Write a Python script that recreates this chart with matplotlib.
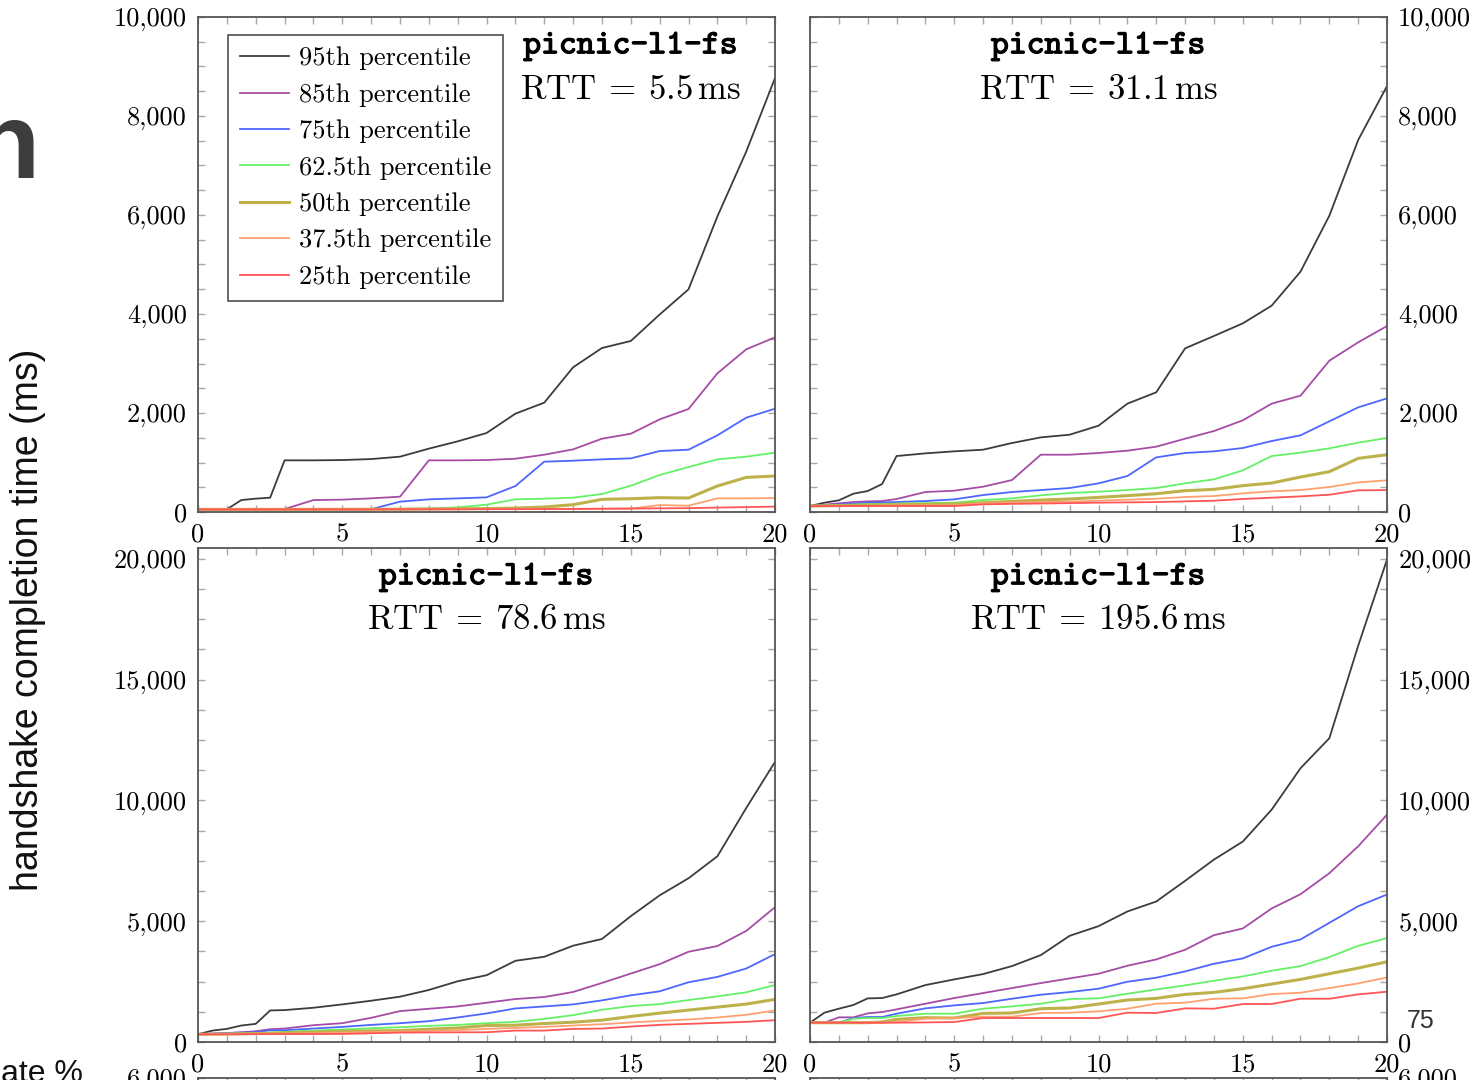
import matplotlib
matplotlib.use("Agg")
import matplotlib.pyplot as plt
import matplotlib.patheffects as pe
from matplotlib.ticker import MultipleLocator, FuncFormatter

plt.rcParams['font.family'] = ['cmr10', 'DejaVu Serif']
plt.rcParams['mathtext.fontset'] = 'cm'
plt.rcParams['axes.unicode_minus'] = False

# packet loss (%) on the x axis
loss = [0, 0.5, 1, 1.5, 2, 2.5, 3, 4, 5, 6, 7, 8, 9, 10, 11, 12, 13, 14, 15, 16, 17, 18, 19, 20]
percentiles = ["95th", "85th", "75th", "62.5th", "50th", "37.5th", "25th"]
colors = ["#3c3c3c", "#a64ca6", "#4d66ff", "#66f066", "#bdb24a", "#ffa070", "#ff5555"]
widths = [1.3, 1.3, 1.3, 1.3, 2.2, 1.3, 1.3]

# RTT = 5.5 ms
rtt5_p95 = [54, 54, 54, 242, 270, 290, 1044, 1044, 1050, 1070, 1118, 1280, 1428, 1596, 1987, 2209, 2923, 3313, 3455, 3990, 4498, 5970, 7280, 8770]
rtt5_p85 = [54, 54, 54, 54, 54, 54, 60, 242, 250, 276, 310, 1044, 1044, 1050, 1077, 1158, 1266, 1481, 1582, 1872, 2081, 2801, 3286, 3529]
rtt5_p75 = [54, 54, 54, 54, 54, 54, 54, 54, 54, 56, 209, 256, 276, 296, 525, 1017, 1037, 1064, 1084, 1232, 1259, 1549, 1906, 2087]
rtt5_p62 = [54, 54, 54, 54, 54, 54, 54, 54, 56, 58, 62, 70, 94, 148, 256, 269, 290, 364, 532, 747, 909, 1064, 1118, 1199]
rtt5_p50 = [54, 54, 54, 54, 54, 54, 54, 54, 55, 56, 58, 62, 66, 70, 80, 101, 148, 256, 269, 290, 283, 525, 700, 727]
rtt5_p37 = [54, 54, 54, 54, 54, 54, 54, 54, 54, 55, 56, 57, 58, 60, 62, 64, 66, 68, 70, 141, 128, 276, 276, 283]
rtt5_p25 = [54, 54, 54, 54, 54, 54, 54, 54, 54, 54, 55, 55, 56, 57, 58, 60, 62, 65, 70, 75, 78, 90, 100, 110]

# RTT = 31.1 ms
rtt31_p95 = [121, 189, 236, 370, 424, 566, 1131, 1185, 1226, 1259, 1394, 1508, 1562, 1744, 2189, 2418, 3306, 3556, 3811, 4168, 4855, 5986, 7515, 8606]
rtt31_p85 = [121, 148, 175, 202, 215, 222, 263, 404, 431, 512, 646, 1158, 1158, 1192, 1239, 1320, 1481, 1636, 1852, 2189, 2350, 3057, 3428, 3758]
rtt31_p75 = [121, 135, 155, 170, 189, 195, 202, 222, 256, 343, 404, 444, 485, 579, 727, 1104, 1192, 1226, 1293, 1434, 1549, 1832, 2114, 2296]
rtt31_p62 = [121, 130, 140, 150, 160, 165, 170, 180, 189, 242, 276, 337, 384, 411, 444, 485, 579, 660, 842, 1131, 1199, 1286, 1401, 1495]
rtt31_p50 = [121, 125, 130, 135, 140, 145, 148, 155, 162, 189, 215, 242, 263, 296, 330, 370, 431, 458, 532, 586, 707, 815, 1084, 1158]
rtt31_p37 = [121, 121, 122, 124, 126, 128, 130, 132, 135, 175, 189, 202, 209, 229, 249, 269, 303, 323, 377, 418, 444, 505, 599, 640]
rtt31_p25 = [121, 121, 121, 121, 121, 121, 121, 121, 121, 155, 165, 172, 180, 189, 195, 202, 215, 229, 263, 290, 316, 350, 438, 444]

# RTT = 78.6 ms
rtt78_p95 = [320, 472, 542, 681, 750, 1306, 1320, 1417, 1556, 1708, 1875, 2153, 2514, 2764, 3361, 3528, 3986, 4264, 5209, 6070, 6778, 7686, 9686, 11600]
rtt78_p85 = [320, 340, 361, 400, 444, 528, 556, 695, 778, 1000, 1278, 1375, 1472, 1625, 1778, 1861, 2070, 2444, 2833, 3222, 3736, 3972, 4597, 5583]
rtt78_p75 = [320, 350, 375, 390, 403, 486, 486, 556, 625, 708, 778, 861, 1014, 1181, 1389, 1472, 1556, 1722, 1931, 2097, 2472, 2694, 3042, 3639]
rtt78_p62 = [320, 330, 340, 350, 361, 390, 417, 472, 514, 569, 611, 667, 708, 778, 833, 958, 1111, 1333, 1486, 1569, 1736, 1889, 2056, 2361]
rtt78_p50 = [320, 325, 330, 340, 350, 360, 375, 410, 444, 460, 472, 528, 583, 681, 695, 764, 819, 903, 1056, 1194, 1320, 1444, 1569, 1764]
rtt78_p37 = [320, 322, 325, 330, 335, 340, 345, 365, 389, 410, 431, 460, 486, 542, 583, 625, 681, 736, 806, 875, 931, 1014, 1125, 1306]
rtt78_p25 = [320, 320, 320, 322, 324, 326, 328, 330, 333, 360, 389, 395, 400, 403, 472, 472, 542, 556, 639, 708, 750, 792, 833, 903]

# RTT = 195.6 ms
rtt195_p95 = [799, 1213, 1378, 1530, 1805, 1819, 1971, 2356, 2591, 2811, 3142, 3597, 4396, 4795, 5402, 5815, 6670, 7551, 8296, 9618, 11332, 12575, 16405, 19977]
rtt195_p85 = [799, 799, 1020, 1020, 1185, 1240, 1350, 1585, 1819, 2026, 2232, 2439, 2632, 2825, 3156, 3417, 3817, 4423, 4699, 5526, 6118, 6987, 8103, 9412]
rtt195_p75 = [799, 799, 799, 992, 1033, 1033, 1171, 1392, 1516, 1612, 1791, 1957, 2067, 2205, 2494, 2660, 2921, 3238, 3459, 3941, 4244, 4933, 5622, 6105]
rtt195_p62 = [799, 799, 799, 965, 992, 992, 1075, 1171, 1171, 1378, 1474, 1585, 1778, 1805, 1998, 2177, 2343, 2536, 2715, 2949, 3142, 3514, 3982, 4299]
rtt195_p50 = [799, 799, 799, 799, 799, 827, 937, 1006, 992, 1185, 1199, 1378, 1406, 1571, 1736, 1805, 1971, 2053, 2205, 2398, 2591, 2825, 3059, 3321]
rtt195_p37 = [799, 799, 799, 799, 799, 799, 827, 965, 992, 1047, 1047, 1199, 1213, 1268, 1378, 1585, 1626, 1791, 1805, 1984, 2039, 2232, 2425, 2673]
rtt195_p25 = [799, 799, 799, 799, 799, 799, 799, 810, 827, 992, 992, 992, 992, 992, 1213, 1199, 1392, 1378, 1571, 1571, 1791, 1791, 1971, 2081]

scheme = "picnic-l1-fs"

comma = FuncFormatter(lambda v, p: f"{v:,.0f}")


def style_axes(ax, ymax, major, minor, side):
    ax.set_xlim(0, 20)
    ax.set_ylim(0, ymax)
    ax.xaxis.set_major_locator(MultipleLocator(5))
    ax.xaxis.set_minor_locator(MultipleLocator(1))
    ax.yaxis.set_major_locator(MultipleLocator(major))
    ax.yaxis.set_minor_locator(MultipleLocator(minor))
    ax.yaxis.set_major_formatter(comma)
    ax.tick_params(which="both", direction="in", top=True, bottom=True, left=True, right=True,
                   color="#a8a8a8", width=1.0, length=5, labelsize=19, pad=8,
                   labelleft=(side == "left"), labelright=(side == "right"))
    for s in ax.spines.values():
        s.set_color("#555555")
        s.set_linewidth(1.3)


def draw_panel(ax, series, rtt, ymax, major, minor, side, title_x):
    for vals, c, w, p in zip(series, colors, widths, percentiles):
        ax.plot(loss, vals, color=c, lw=w, label=f"{p} percentile")
    style_axes(ax, ymax, major, minor, side)
    ax.text(title_x, 0.94, scheme, transform=ax.transAxes, ha="center", va="center",
            family="cmtt10", fontsize=24.5,
            path_effects=[pe.withStroke(linewidth=0.9, foreground="black")])
    ax.text(title_x, 0.853, rf"$\mathrm{{RTT}}\:=\:{rtt}\,\mathrm{{ms}}$", transform=ax.transAxes,
            ha="center", va="center", fontsize=25)


fig = plt.figure(figsize=(14.8, 10.8), dpi=100)

ax_tl = fig.add_axes([0.1338, 0.5259, 0.3899, 0.4584])
ax_tr = fig.add_axes([0.5473, 0.5259, 0.3899, 0.4584])
ax_bl = fig.add_axes([0.1338, 0.0352, 0.3899, 0.4574])
ax_br = fig.add_axes([0.5473, 0.0352, 0.3899, 0.4574])

draw_panel(ax_tl, [rtt5_p95, rtt5_p85, rtt5_p75, rtt5_p62, rtt5_p50, rtt5_p37, rtt5_p25],
           "5.5", 10000, 2000, 500, "left", 0.749)
draw_panel(ax_tr, [rtt31_p95, rtt31_p85, rtt31_p75, rtt31_p62, rtt31_p50, rtt31_p37, rtt31_p25],
           "31.1", 10000, 2000, 500, "right", 0.499)
draw_panel(ax_bl, [rtt78_p95, rtt78_p85, rtt78_p75, rtt78_p62, rtt78_p50, rtt78_p37, rtt78_p25],
           "78.6", 20450, 5000, 1250, "left", 0.499)
draw_panel(ax_br, [rtt195_p95, rtt195_p85, rtt195_p75, rtt195_p62, rtt195_p50, rtt195_p37, rtt195_p25],
           "195.6", 20450, 5000, 1250, "right", 0.499)

leg = ax_tl.legend(loc="upper left", bbox_to_anchor=(0.052, 0.964), borderaxespad=0,
                   prop={"family": "cmr10", "size": 19}, frameon=True, fancybox=False,
                   handlelength=1.85, handletextpad=0.4, labelspacing=0.48, borderpad=0.45)
leg.get_frame().set_edgecolor("#222222")
leg.get_frame().set_linewidth(1.2)

# next row of the slide, cut off at the bottom edge
for left, side in [(0.1338, "left"), (0.5473, "right")]:
    ax = fig.add_axes([left, -0.45, 0.3899, 0.45185])
    style_axes(ax, 6000, 2000, 500, side)
    ax.tick_params(labelbottom=False)

sans = ["Liberation Sans Narrow", "Liberation Sans", "DejaVu Sans"]
fig.text(0.019, 0.426, "handshake completion time (ms)", rotation=90, ha="center", va="center",
         family=sans, fontsize=27, color="#111111")
fig.text(40 / 1480, 1 - 178 / 1080, "n", ha="right", va="baseline", family=sans,
         fontweight="bold", fontsize=78, color="#3d3d3d")
fig.text(0.001, -0.002, "ate %", ha="left", va="baseline", family=["Liberation Sans", "DejaVu Sans"],
         fontsize=23, color="#111111")
fig.text(1407 / 1480, 1 - 1028 / 1080, "75", ha="left", va="baseline",
         family=["Liberation Sans", "DejaVu Sans"], fontsize=18, color="#333333")

fig.savefig("out.png", dpi=100, facecolor="white")
